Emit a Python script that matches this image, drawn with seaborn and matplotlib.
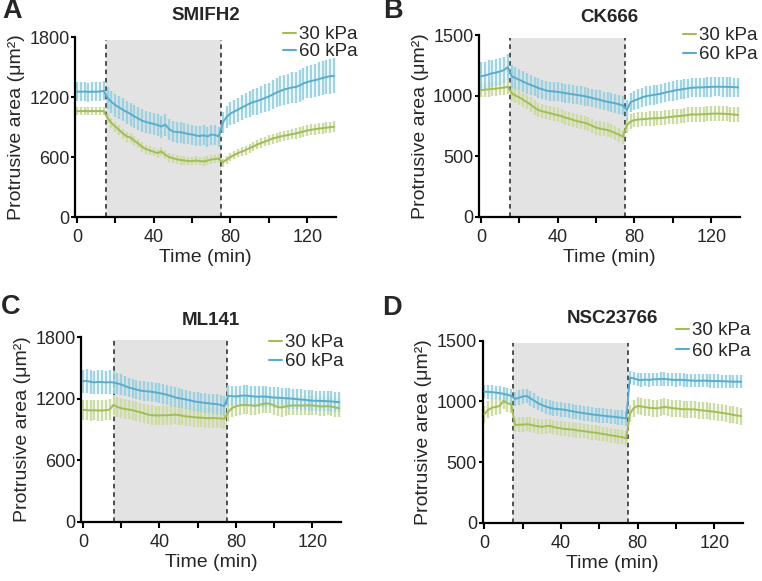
import matplotlib
matplotlib.use('Agg')
import matplotlib.pyplot as plt
from matplotlib.lines import Line2D
import seaborn as sns
import numpy as np

# sampling grid (min)
TIME = list(range(0, 136, 2))

# SMIFH2
A_30 = [1060, 1058, 1060, 1057, 1060, 1058, 1060, 1058,
        990, 940, 905, 870, 835, 805, 795, 760, 735, 700, 680, 665, 652, 640, 655, 622, 600,
        588, 578, 570, 565, 560, 558, 565, 560, 555, 565, 575, 580, 585,
        545, 575, 600, 620, 640, 655, 670, 690, 705, 725, 740, 755, 770, 785, 795, 805,
        812, 820, 828, 835, 845, 855, 865, 872, 878, 884, 888, 893, 898, 902]
A_60 = [1255, 1252, 1255, 1250, 1254, 1252, 1255, 1262,
        1190, 1150, 1120, 1095, 1072, 1050, 1030, 1005, 985, 962, 950, 940, 930, 920, 905, 925,
        880, 855, 850, 848, 840, 830, 825, 815, 810, 818, 805, 825, 820, 805,
        945, 1000, 1035, 1055, 1075, 1095, 1115, 1135, 1150, 1160, 1175, 1190, 1205, 1225,
        1245, 1260, 1275, 1285, 1295, 1300, 1315, 1335, 1350, 1360, 1368, 1378, 1390, 1400,
        1408, 1412]
A_30_ERR = [40, 40, 40, 40, 40, 40, 40, 40,
            50, 50, 50, 50, 50, 50, 50, 48, 48, 48, 45, 45, 45, 45, 45, 45, 45, 45, 45, 45,
            42, 42, 42, 42, 42, 42, 42, 42, 42, 42,
            40, 40, 42, 42, 42, 45, 45, 45, 45, 48, 48, 48, 50, 50, 50, 50, 50, 52, 52, 52,
            52, 55, 55, 55, 55, 55, 55, 55, 55, 55]
A_60_ERR = [95, 95, 95, 95, 95, 95, 95, 95,
            110, 110, 115, 115, 115, 115, 115, 115, 115, 115, 110, 110, 110, 110, 110, 110,
            105, 105, 105, 105, 105, 100, 100, 100, 100, 100, 100, 100, 100, 100,
            105, 110, 115, 120, 120, 125, 125, 130, 130, 135, 135, 140, 140, 145, 145, 150,
            150, 150, 155, 155, 160, 160, 160, 165, 165, 170, 170, 170, 175, 175]

# CK666
B_30 = [1045, 1048, 1052, 1055, 1058, 1062, 1066, 1072,
        1020, 1000, 985, 965, 945, 925, 900, 880, 870, 862, 855, 845, 838, 830, 818, 810,
        798, 790, 782, 775, 765, 750, 735, 728, 722, 715, 705, 690, 678, 660,
        755, 785, 798, 802, 805, 807, 810, 812, 813, 815, 818, 822, 826, 829, 832, 835,
        840, 845, 843, 845, 846, 848, 850, 851, 851, 850, 848, 846, 843, 840]
B_60 = [1160, 1165, 1175, 1185, 1190, 1200, 1210, 1235,
        1160, 1145, 1130, 1115, 1100, 1088, 1075, 1062, 1052, 1042, 1036, 1034, 1030, 1026,
        1020, 1015, 1010, 1005, 1000, 995, 988, 980, 972, 965, 955, 948, 942, 936, 928, 918,
        880, 945, 960, 972, 985, 995, 1000, 1005, 1010, 1016, 1025, 1032, 1038, 1045, 1050,
        1055, 1060, 1065, 1066, 1068, 1068, 1070, 1072, 1073, 1073, 1072, 1072, 1071, 1069,
        1068]
B_30_ERR = [60, 60, 60, 60, 60, 60, 62, 62,
            62, 62, 60, 60, 60, 60, 60, 58, 58, 58, 58, 58, 58, 58, 58, 58, 58, 58, 58, 58,
            58, 58, 58, 58, 58, 58, 58, 58, 58, 58,
            60, 60, 60, 60, 60, 60, 60, 60, 60, 60, 60, 60, 60, 60, 60, 62, 62, 62, 62, 62,
            62, 62, 62, 62, 62, 62, 62, 62, 62, 62]
B_60_ERR = [115, 115, 115, 112, 110, 110, 108, 105,
            95, 90, 88, 85, 85, 82, 80, 80, 80, 80, 78, 78, 78, 78, 78, 78, 78, 78, 78, 78,
            78, 78, 78, 78, 78, 78, 78, 78, 78, 78,
            80, 80, 80, 80, 80, 80, 80, 80, 80, 80, 80, 80, 80, 80, 80, 80, 80, 80, 80, 80,
            80, 80, 80, 80, 80, 80, 80, 80, 80, 80]

# ML141
C_30 = [1092, 1090, 1086, 1088, 1086, 1085, 1088, 1095,
        1140, 1120, 1108, 1100, 1095, 1088, 1078, 1068, 1058, 1045, 1040, 1038, 1037, 1040,
        1038, 1042, 1045, 1042, 1035, 1028, 1025, 1020, 1017, 1015, 1012, 1010, 1012, 1010,
        1008, 1004,
        1070, 1110, 1125, 1135, 1140, 1138, 1135, 1132, 1138, 1150, 1155, 1150, 1135, 1118,
        1115, 1125, 1132, 1135, 1135, 1133, 1135, 1136, 1135, 1130, 1126, 1125, 1128, 1124,
        1115, 1108]
C_60 = [1370, 1375, 1365, 1360, 1365, 1362, 1360, 1362,
        1360, 1350, 1340, 1325, 1310, 1300, 1290, 1280, 1275, 1272, 1268, 1262, 1255, 1248,
        1238, 1228, 1215, 1206, 1200, 1192, 1185, 1175, 1168, 1165, 1160, 1155, 1150, 1148,
        1140, 1128,
        1230, 1225, 1222, 1228, 1232, 1230, 1225, 1222, 1220, 1222, 1220, 1215, 1212, 1210,
        1208, 1205, 1203, 1200, 1196, 1192, 1190, 1185, 1182, 1180, 1180, 1178, 1176, 1174,
        1170, 1166]
C_30_ERR = [100, 100, 100, 100, 100, 100, 100, 100,
            98, 98, 95, 95, 95, 95, 95, 95, 95, 95, 95, 95, 95, 95, 95, 95, 95, 95, 95, 95,
            95, 95, 95, 95, 95, 95, 95, 95, 95, 95,
            90, 90, 90, 90, 90, 90, 90, 90, 90, 90, 90, 90, 90, 90, 90, 90, 90, 90, 90, 90,
            90, 90, 90, 90, 90, 90, 90, 90, 90, 90]
C_60_ERR = [115, 115, 115, 115, 115, 115, 115, 115,
            110, 105, 100, 98, 95, 95, 95, 95, 95, 95, 95, 95, 95, 95, 95, 95, 95, 95, 95, 95,
            95, 95, 95, 95, 95, 95, 95, 95, 95, 95,
            100, 100, 100, 100, 100, 100, 100, 100, 100, 100, 100, 100, 100, 100, 100, 100,
            100, 100, 100, 100, 100, 100, 100, 100, 100, 100, 100, 100, 100, 100]

# NSC23766
D_30 = [895, 930, 948, 955, 962, 1005, 985, 975,
        805, 808, 808, 812, 808, 800, 795, 790, 795, 798, 790, 782, 777, 772, 770, 768,
        762, 758, 754, 750, 745, 742, 736, 731, 726, 720, 715, 710, 705, 695,
        900, 945, 962, 958, 952, 948, 944, 942, 948, 954, 950, 944, 942, 938, 935, 936,
        934, 934, 928, 925, 922, 918, 915, 910, 905, 900, 895, 888, 883, 879]
D_60 = [1080, 1078, 1076, 1072, 1068, 1062, 1055, 1045,
        1020, 1030, 1040, 1045, 1025, 1005, 985, 970, 958, 948, 940, 937, 934, 930, 924,
        918, 912, 907, 902, 898, 893, 889, 885, 882, 878, 875, 872, 868, 865, 860,
        1195, 1190, 1178, 1175, 1180, 1176, 1182, 1182, 1185, 1184, 1182, 1178, 1176, 1178,
        1176, 1174, 1172, 1170, 1170, 1171, 1170, 1168, 1167, 1168, 1166, 1165, 1164, 1162,
        1162, 1162]
D_30_ERR = [70, 70, 70, 70, 70, 70, 70, 70,
            60, 60, 60, 60, 60, 60, 60, 60, 60, 60, 60, 60, 60, 60, 60, 60, 60, 60, 60, 60,
            60, 60, 60, 60, 60, 60, 60, 60, 60, 60,
            70, 70, 70, 70, 70, 70, 70, 70, 70, 70, 70, 70, 70, 70, 70, 70, 70, 70, 70, 70,
            70, 70, 70, 70, 70, 70, 70, 70, 70, 70]
D_60_ERR = [55, 55, 55, 55, 55, 55, 55, 55,
            60, 60, 60, 60, 60, 60, 60, 60, 60, 60, 60, 60, 60, 60, 60, 60, 60, 60, 60, 60,
            60, 60, 60, 60, 60, 60, 60, 60, 60, 60,
            55, 55, 55, 55, 55, 55, 55, 55, 55, 55, 55, 55, 55, 55, 55, 55, 55, 55, 55, 55,
            55, 55, 55, 55, 55, 55, 55, 55, 55, 55]

LABELS = ['30 kPa', '60 kPa']
TITLES = ['SMIFH2', 'CK666', 'ML141', 'NSC23766']
LETTERS = ['A', 'B', 'C', 'D']
YMAX = [1800, 1500, 1800, 1500]
YTICKS = [[0, 600, 1200, 1800], [0, 500, 1000, 1500], [0, 600, 1200, 1800], [0, 500, 1000, 1500]]
DRUG = [(15, 75), (15, 75), (16, 75.5), (15, 75)]

GREEN = '#a2bd58'
GREEN_ERR = '#cddca2'
BLUE = '#5aaccf'
BLUE_ERR = '#95d1df'

sns.set_theme(style='ticks')
plt.rcParams['font.family'] = ['Liberation Sans', 'DejaVu Sans']

fig = plt.figure(figsize=(7.62, 5.81), dpi=100)
W, H = 762, 581

# axes boxes in pixels: left, top, width, height
boxes = [(75, 37, 261, 180), (479, 35, 261, 181.7), (81, 337.3, 260, 184.4), (482.5, 340.7, 260.5, 182)]
title_pad = [12.2, 9.6, 8.9, 12.5]
legend_pos = [(283, 26), (683, 27), (269, 334), (676, 322)]
legend_gap = [0.0, 0.1, 0.1, 0.2]
letter_pos = [(2, 18.5), (383, 18.5), (1, 313.5), (382, 315)]

panels = [(A_30, A_30_ERR, A_60, A_60_ERR), (B_30, B_30_ERR, B_60, B_60_ERR),
          (C_30, C_30_ERR, C_60, C_60_ERR), (D_30, D_30_ERR, D_60, D_60_ERR)]

for i, (m30, e30, m60, e60) in enumerate(panels):
    l, t, w, h = boxes[i]
    ax = fig.add_axes([l / W, (H - t - h) / H, w / W, h / H])
    start, stop = DRUG[i]
    top = YMAX[i] * 0.985
    ax.fill_between([start, stop], 0, top, color='#e3e3e3', lw=0, zorder=0)
    ax.plot([start, start], [0, top], color='#222222', lw=1.1, ls=(0, (3, 2.5)), zorder=1)
    ax.plot([stop, stop], [0, top], color='#222222', lw=1.1, ls=(0, (3, 2.5)), zorder=1)

    ax.errorbar(TIME, m30, yerr=e30, fmt='none', ecolor=GREEN_ERR, elinewidth=1.7, capsize=0, zorder=2)
    ax.errorbar(TIME, m60, yerr=e60, fmt='none', ecolor=BLUE_ERR, elinewidth=1.7, capsize=0, alpha=0.9, zorder=2)
    sns.lineplot(x=TIME, y=m30, color=GREEN, lw=1.4, ax=ax, zorder=3)
    sns.lineplot(x=TIME, y=m60, color=BLUE, lw=1.4, ax=ax, zorder=3)

    ax.set_xlim(-1, 135)
    ax.set_ylim(0, YMAX[i])
    ax.set_xticks([0, 20, 40, 60, 80, 100, 120])
    ax.set_xticklabels(['0', '', '40', '', '80', '', '120'])
    ax.set_yticks(YTICKS[i])
    ax.tick_params(axis='x', length=4, width=1.5, pad=5, labelsize=13, color='black')
    ax.tick_params(axis='y', length=3, width=1.5, pad=1, labelsize=13, color='black')
    for s in ['left', 'bottom']:
        ax.spines[s].set_linewidth(1.6)
        ax.spines[s].set_color('black')
    sns.despine(ax=ax)
    ax.set_xlabel('Time (min)', fontsize=14, labelpad=2)
    ax.set_ylabel('Protrusive area (μm²)', fontsize=14, labelpad=3)
    ax.set_title(TITLES[i], fontsize=13.5, fontweight='bold', pad=title_pad[i])

    handles = [Line2D([0], [0], color=GREEN, lw=1.5), Line2D([0], [0], color=BLUE, lw=1.5)]
    lx, ly = legend_pos[i]
    ax.legend(handles, LABELS, loc='upper left', bbox_to_anchor=(lx / W, 1 - ly / H),
              bbox_transform=fig.transFigure, frameon=False, fontsize=13.5,
              handlelength=0.7, handletextpad=0.15, labelspacing=legend_gap[i],
              borderpad=0, borderaxespad=0)

    lx, ly = letter_pos[i]
    fig.text(lx / W, 1 - ly / H, LETTERS[i], fontsize=19.5, fontweight='bold', ha='left', va='baseline')

fig.savefig('out.png', dpi=100)
